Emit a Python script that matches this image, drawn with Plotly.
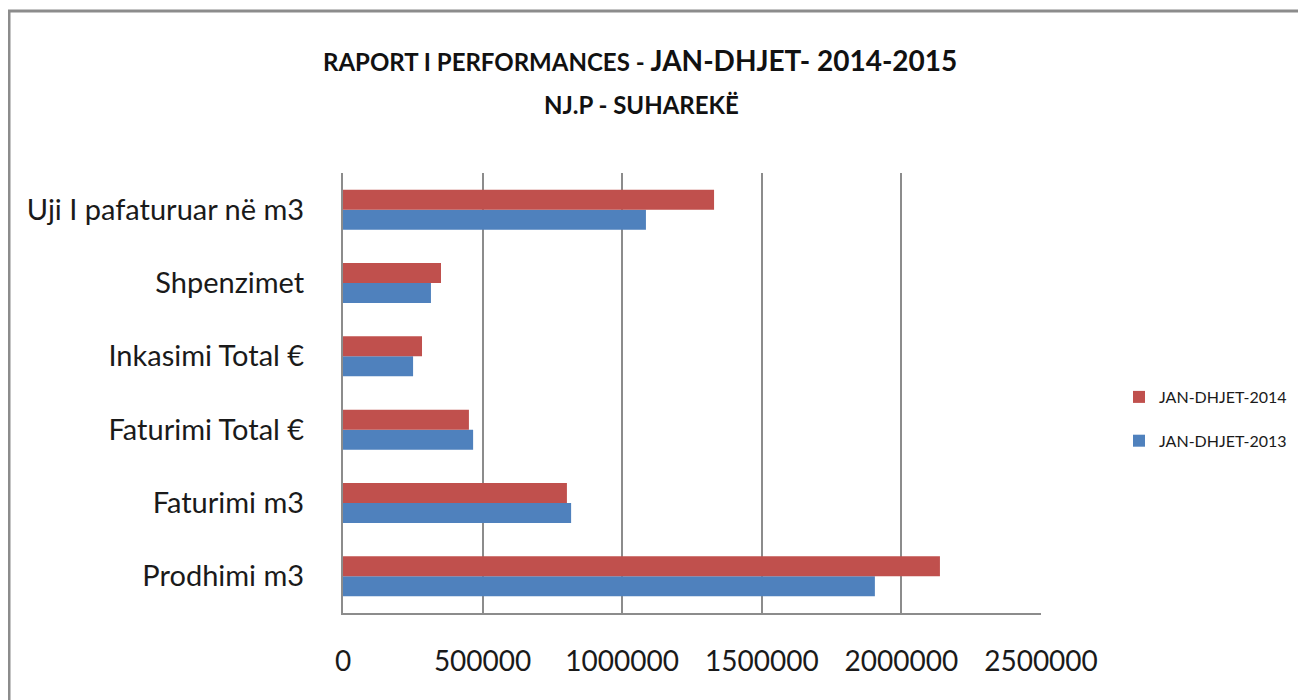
import plotly.graph_objects as go

categories = ["Prodhimi m3", "Faturimi m3", "Faturimi Total €", "Inkasimi Total €",
              "Shpenzimet", "Uji I pafaturuar në m3"]
values_2013 = [1905000, 817000, 466000, 251000, 315000, 1085000]
values_2014 = [2138000, 802000, 451000, 283000, 351000, 1329000]
x_ticks = [0, 500000, 1000000, 1500000, 2000000, 2500000]

W, H = 1306, 700
OFF = 8  # page body margin
L, R, T, B = 343 - OFF, 1041 - OFF, 173 - OFF, 613 - OFF
pw, ph = R - L, B - T

def px_x(x):
    return (x - OFF - L) / pw

def px_y(y):
    return (B - (y - OFF)) / ph

FONT = "Lato, sans-serif"

fig = go.Figure()
fig.add_trace(go.Bar(y=categories, x=values_2013, orientation="h", name="JAN-DHJET-2013",
                     marker=dict(color="#4F81BD", line=dict(width=0)),
                     legendgroup="g2013", legendrank=2))
fig.add_trace(go.Bar(y=categories, x=values_2014, orientation="h", name="JAN-DHJET-2014",
                     marker=dict(color="#C0504D", line=dict(width=0)),
                     legendgroup="g2014", legendrank=1))

fig.update_layout(
    width=W, height=H,
    margin=dict(l=L, r=W - R, t=T, b=H - B, pad=0, autoexpand=False),
    paper_bgcolor="white", plot_bgcolor="white",
    barmode="group", bargap=0.455, bargroupgap=0,
    font=dict(family=FONT, color="#1a1a1a"),
    legend=dict(x=px_x(1119), y=px_y(419), xanchor="left", yanchor="middle",
                traceorder="grouped", tracegroupgap=20,
                font=dict(family=FONT, size=16, color="#1a1a1a"),
                bgcolor="rgba(0,0,0,0)"),
    showlegend=True,
)
fig.update_xaxes(range=[0, 2500000], tickvals=x_ticks, tickformat="d", tickangle=0,
                 showgrid=True, gridcolor="#8c8c8c", gridwidth=1.5,
                 showline=True, linecolor="#8c8c8c", linewidth=2, automargin=False,
                 zeroline=False, ticks="", ticklabelstandoff=22,
                 tickfont=dict(family=FONT, size=28, color="#1a1a1a"), fixedrange=True)
fig.update_yaxes(type="category", showgrid=False, showline=True, linecolor="#8c8c8c",
                 linewidth=2, ticks="", ticklabelstandoff=31, automargin=False,
                 tickfont=dict(family=FONT, size=29, color="#1a1a1a"), fixedrange=True)

fig.add_annotation(xref="paper", yref="paper", x=px_x(640), y=px_y(60),
                   xanchor="center", yanchor="middle", showarrow=False,
                   text="<b><span style='font-size:24px'>RAPORT I PERFORMANCES - </span>JAN-DHJET- 2014-2015</b>",
                   font=dict(family=FONT, size=28, color="#111111"))
fig.add_annotation(xref="paper", yref="paper", x=px_x(641), y=px_y(104),
                   xanchor="center", yanchor="middle", showarrow=False,
                   text="<b>NJ.P - SUHAREKË</b>",
                   font=dict(family=FONT, size=24, color="#111111"))

fig.add_shape(type="rect", xref="paper", yref="paper",
              x0=px_x(9), x1=px_x(1330), y0=px_y(730), y1=px_y(11),
              line=dict(color="#8c8c8c", width=3), fillcolor="rgba(0,0,0,0)", layer="below")

fig.write_html("out.html")
